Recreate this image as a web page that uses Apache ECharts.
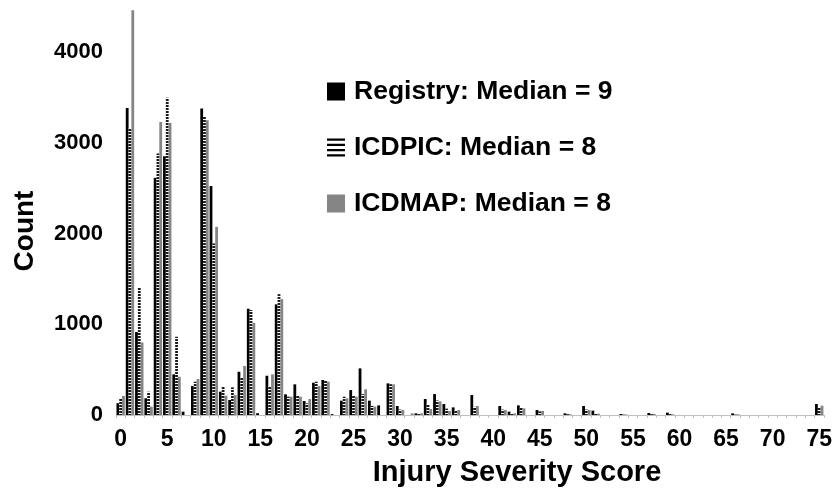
<!DOCTYPE html>
<html>
<head>
<meta charset="utf-8">
<script src="https://cdn.jsdelivr.net/npm/echarts@6/dist/echarts.min.js"></script>
<style>
html,body{margin:0;padding:0;background:#fff;}
#chart{width:835px;height:498px;}
</style>
</head>
<body>
<div id="chart"></div>
<script>
// Injury Severity Score categories (0..75)
const issScores = ['0','1','2','3','4','5','6','7','8','9',
  '10','11','12','13','14','15','16','17','18','19',
  '20','21','22','23','24','25','26','27','28','29',
  '30','31','32','33','34','35','36','37','38','39',
  '40','41','42','43','44','45','46','47','48','49',
  '50','51','52','53','54','55','56','57','58','59',
  '60','61','62','63','64','65','66','67','68','69',
  '70','71','72','73','74','75'];

const registry = [
  130, 3385, 915, 185, 2615, 2855, 448, 37, 320, 3380,
  2525, 257, 165, 477, 1172, 20, 433, 1220, 228, 338,
  154, 356, 386, 10, 158, 275, 514, 158, 106, 349,
  99, 0, 18, 176, 231, 121, 84, 0, 220, 0,
  0, 99, 37, 106, 0, 55, 0, 0, 18, 0,
  99, 48, 0, 0, 11, 0, 0, 22, 0, 26,
  0, 0, 0, 0, 0, 0, 18, 0, 0, 0,
  0, 0, 0, 0, 0, 121];

const icdpic = [
  187, 3160, 1410, 257, 2883, 3500, 863, 0, 367, 3287,
  1892, 320, 305, 415, 1157, 0, 312, 1333, 202, 220,
  129, 367, 375, 0, 202, 220, 230, 100, 0, 340,
  60, 0, 10, 120, 160, 70, 50, 0, 90, 0,
  0, 60, 20, 80, 0, 40, 0, 0, 10, 0,
  60, 20, 0, 0, 5, 0, 0, 10, 0, 10,
  0, 0, 0, 0, 0, 0, 5, 0, 0, 0,
  0, 0, 0, 0, 0, 84];

const icdmap = [
  210, 4463, 800, 92, 3232, 3221, 422, 0, 397, 3250,
  2075, 213, 220, 540, 1017, 0, 448, 1278, 202, 202,
  176, 320, 367, 0, 184, 202, 283, 92, 0, 338,
  55, 18, 18, 66, 150, 44, 55, 0, 99, 0,
  0, 55, 18, 73, 0, 44, 0, 0, 7, 0,
  55, 15, 0, 0, 5, 0, 0, 11, 0, 8,
  0, 0, 0, 0, 0, 0, 8, 0, 0, 0,
  0, 0, 0, 0, 0, 103];

const seriesNames = ['Registry: Median = 9', 'ICDPIC: Median = 8', 'ICDMAP: Median = 8'];
const xTickLabels = ['0','5','10','15','20','25','30','35','40','45','50','55','60','65','70','75'];
const yTickLabels = [0, 1000, 2000, 3000, 4000];
const xTitle = 'Injury Severity Score';
const yTitle = 'Count';

const FONT = '"Liberation Sans", Arial, sans-serif';

// striped pattern for ICDPIC bars
const pc = document.createElement('canvas');
pc.width = 4; pc.height = 3;
const pctx = pc.getContext('2d');
pctx.fillStyle = '#ffffff'; pctx.fillRect(0, 0, 4, 3);
pctx.fillStyle = '#1a1a1a'; pctx.fillRect(0, 0, 4, 2);

const chart = echarts.init(document.getElementById('chart'), null, {renderer: 'canvas'});
chart.setOption({
  animation: false,
  backgroundColor: '#ffffff',
  grid: {left: 116, right: 9, top: 7, bottom: 83, containLabel: false},
  graphic: [
    {type: 'text', x: 517, y: 473, silent: true,
     style: {text: xTitle, fill: '#000', font: 'bold 29px ' + FONT, align: 'center', verticalAlign: 'middle'}},
    {type: 'text', x: 25, y: 231, rotation: Math.PI / 2, silent: true,
     style: {text: yTitle, fill: '#000', font: 'bold 28px ' + FONT, align: 'center', verticalAlign: 'middle'}}
  ],
  legend: {
    orient: 'vertical', left: 327, top: 78, padding: 0,
    itemWidth: 18, itemHeight: 18, itemGap: 29,
    selectedMode: false,
    textStyle: {fontSize: 26.5, fontWeight: 'bold', color: '#000', fontFamily: FONT, lineHeight: 26, padding: [0, 0, 0, 4]},
    data: [
      {name: seriesNames[0], icon: 'rect', itemStyle: {color: '#000'}},
      {name: seriesNames[1], icon: 'path://M0,0H20V2.4H0Z M0,5.9H20V8.3H0Z M0,11.7H20V14.1H0Z M0,17.6H20V20H0Z', itemStyle: {color: '#000'}},
      {name: seriesNames[2], icon: 'rect', itemStyle: {color: '#858585'}}
    ]
  },
  xAxis: {
    type: 'category',
    data: issScores,
    axisLine: {show: true, lineStyle: {color: '#bfbfbf', width: 1}},
    axisTick: {show: true, interval: 0, length: 3, lineStyle: {color: '#bfbfbf'}},
    axisLabel: {
      interval: 0,
      formatter: v => xTickLabels.includes(v) ? v : '',
      fontSize: 23, fontWeight: 'bold', color: '#000', fontFamily: FONT, margin: 13
    },
    splitLine: {show: false}
  },
  yAxis: {
    type: 'value',
    min: 0, max: 4500, interval: 1000,
    axisLine: {show: false},
    axisTick: {show: false},
    splitLine: {show: false},
    axisLabel: {
      formatter: v => yTickLabels.includes(v) ? String(v) : '',
      fontSize: 22, fontWeight: 'bold', color: '#000', fontFamily: FONT, margin: 13
    }
  },
  series: [
    {name: seriesNames[0], type: 'bar', data: registry, barGap: '0%', barCategoryGap: '10%',
     itemStyle: {color: '#000'}, emphasis: {disabled: true}},
    {name: seriesNames[1], type: 'bar', data: icdpic, barGap: '0%', barCategoryGap: '10%',
     itemStyle: {color: {image: pc, repeat: 'repeat'}}, emphasis: {disabled: true}},
    {name: seriesNames[2], type: 'bar', data: icdmap, barGap: '0%', barCategoryGap: '10%',
     itemStyle: {color: '#858585'}, emphasis: {disabled: true}}
  ]
});
</script>
</body>
</html>
